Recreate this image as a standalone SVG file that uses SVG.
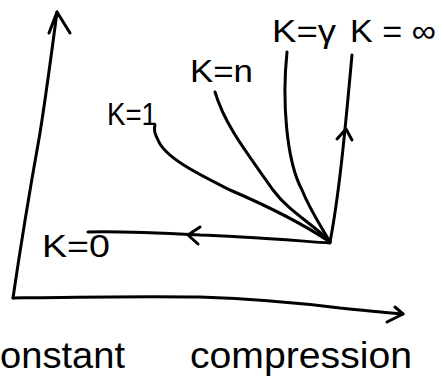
<svg xmlns="http://www.w3.org/2000/svg" width="442" height="380" viewBox="0 0 442 380">
<style>
.ln{fill:none;stroke:#000;stroke-width:3;stroke-linecap:round;stroke-linejoin:round}
.lb{font-family:"Liberation Sans",Arial,sans-serif;font-size:32px;fill:#000}
.ax{font-family:"Liberation Sans",Arial,sans-serif;font-size:36px;fill:#000}
</style>
<rect width="442" height="380" fill="#fff"/>
<g id="connectors">
<g id="y-axis"><path class="ln" d="M13,298 C20,250 28,200 40,133 C46,95 52,50 57,12"/><path class="ln" d="M49,33 L57,12 L70,33"/></g>
<g id="x-axis"><path class="ln" d="M13,298 C80,297 140,296 200,297 C260,299 300,303 340,308 C370,311 390,313 403,314"/><path class="ln" d="M395,307 L403,314 L387,322"/></g>
<g id="curve-k0"><path class="ln" d="M330,243 C300,241 240,236 200,235 C160,233 120,231 88,232"/><path class="ln" d="M200,227 L188,235 L198,244"/></g>
<g id="curve-k1"><path class="ln" d="M155,125 Q153,131 158,140 C165,158 200,175 230,190 C265,205 300,222 330,242"/></g>
<g id="curve-kn"><path class="ln" d="M215,92 C225,125 245,150 273,190 C290,213 315,225 330,242"/></g>
<g id="curve-kgamma"><path class="ln" d="M287,52 C282,100 286,160 302,190 C310,210 322,228 330,242"/></g>
<g id="curve-kinf"><path class="ln" d="M352,55 C346,120 340,190 330,242"/><path class="ln" d="M337,139 L346,129 L352,140"/></g>
</g>
<g id="labels">
<g id="label-k0"><text class="lb" x="42" y="257" textLength="68" lengthAdjust="spacingAndGlyphs">K=0</text></g>
<g id="label-k1"><text class="lb" x="107" y="125" textLength="50" lengthAdjust="spacingAndGlyphs">K=1</text></g>
<g id="label-kn"><text class="lb" x="190" y="82" textLength="63" lengthAdjust="spacingAndGlyphs">K=n</text></g>
<g id="label-kgamma"><text class="lb" x="272" y="42" textLength="64" lengthAdjust="spacingAndGlyphs">K=γ</text></g>
<g id="label-kinf"><text class="lb" x="350" y="42" textLength="86" lengthAdjust="spacingAndGlyphs">K = ∞</text></g>
<g id="label-x1"><text class="ax" x="0" y="368" textLength="125" lengthAdjust="spacingAndGlyphs">onstant</text></g>
<g id="label-x2"><text class="ax" x="190" y="368" textLength="222" lengthAdjust="spacingAndGlyphs">compression</text></g>
</g>
</svg>
